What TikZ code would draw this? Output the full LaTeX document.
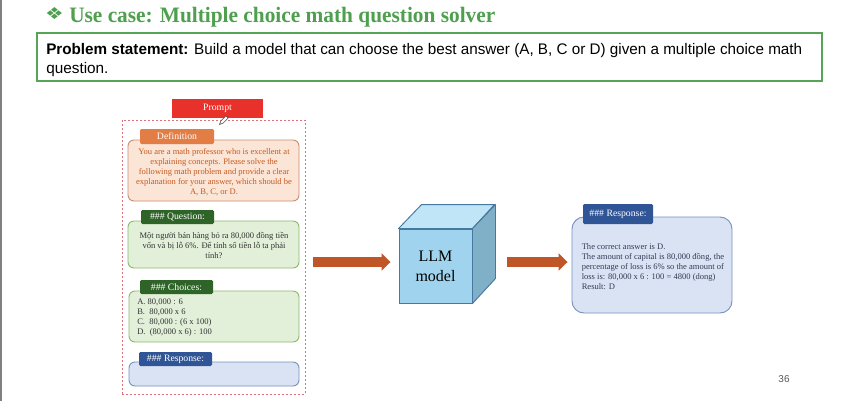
\documentclass[tikz,border=0pt]{standalone}
\usepackage{fontspec}
\setmainfont{Liberation Serif}
\newfontfamily\sansf{Liberation Sans}
\newfontfamily\symf{DejaVu Sans}
\usetikzlibrary{arrows.meta}
\newdimen\pxu \pxu=0.75pt
\newcommand\fitw[2]{\resizebox{#1\pxu}{\height}{#2}}
\definecolor{titleg}{RGB}{78,160,78}
\definecolor{probg}{RGB}{86,165,86}
\definecolor{promptred}{RGB}{232,49,42}
\definecolor{dashc}{RGB}{222,112,122}
\definecolor{deftab}{RGB}{226,125,70}
\definecolor{deffill}{RGB}{251,229,214}
\definecolor{defline}{RGB}{205,140,110}
\definecolor{deftext}{RGB}{197,90,30}
\definecolor{qtab}{RGB}{47,100,40}
\definecolor{qfill}{RGB}{226,240,217}
\definecolor{qline}{RGB}{140,184,112}
\definecolor{rtab}{RGB}{47,85,151}
\definecolor{rfill}{RGB}{218,227,243}
\definecolor{rline}{RGB}{120,145,190}
\definecolor{rtext}{RGB}{46,59,85}
\definecolor{arrowc}{RGB}{192,86,40}
\definecolor{cubef}{RGB}{160,212,238}
\definecolor{cubet}{RGB}{192,229,247}
\definecolor{cubes}{RGB}{128,176,200}
\definecolor{cubeb}{RGB}{70,120,160}
\definecolor{bodyg}{RGB}{50,50,50}
\tikzset{
  tab/.style={rounded corners=1.1pt, text=white, font=\fontsize{7.3}{8}\selectfont,
    inner sep=0pt, minimum height=10.5pt, minimum width=54.75pt},
  card/.style={rounded corners=4.5pt, line width=0.7pt, inner sep=0pt},
  bigarrow/.style={line width=7.5pt, draw=arrowc, -{Triangle[length=6.75pt, width=12.75pt]}},
  bodytext/.style={font=\fontsize{6.4}{7.5}\selectfont, inner sep=0pt},
}
\begin{document}
\begin{tikzpicture}[x=0.75pt,y=-0.75pt]
\useasboundingbox[fill=white] (0,0) rectangle (853,401);
% left page edge
\draw[gray, line width=1.1pt] (1,0) -- (1,401);
% title
\node[inner sep=0pt, text=titleg] (diam) at (54.5,13.5) {\resizebox{14pt}{9pt}{\symf ❖}};
\node[anchor=base west, inner sep=0pt, text=titleg, font=\fontsize{16.5}{18}\selectfont\bfseries] (title) at (69,22)
  {\fitw{426}{Use case: Multiple choice math question solver}};
% problem statement
\node[draw=probg, line width=1.5pt, minimum width=588.75pt, minimum height=36pt, inner sep=0pt] (prob) at (429.5,57) {};
\node[anchor=base west, inner sep=0pt, font=\sansf\fontsize{11.5}{13}\selectfont] (pl1) at (46,54)
  {\fitw{756}{\textbf{Problem statement:} Build a model that can choose the best answer (A, B, C or D) given a multiple choice math}};
\node[anchor=base west, inner sep=0pt, font=\sansf\fontsize{11.5}{13}\selectfont] (pl2) at (46,73) {question.};
% prompt container
\node[draw=dashc, dash pattern=on 1.5pt off 1.5pt, line width=0.7pt, minimum width=137.25pt, minimum height=205.5pt, inner sep=0pt] (promptbox) at (213.5,257) {};
\node[tab, fill=promptred, rounded corners=0pt, minimum width=68.25pt, minimum height=14.25pt] (prompt) at (217.5,108.5) {Prompt};
% pencil icon
\draw[fill=white, draw=black!70, line width=0.45pt] (225.9,115.9) -- (228.1,118.1) -- (223.1,123.1) -- (219.5,124.5) -- (220.9,120.9) -- cycle;
% definition
\node[card, draw=defline, fill=deffill, minimum width=128.25pt, minimum height=45.75pt] (defbox) at (213.5,170.5) {};
\node[bodytext, text=deftext, align=center] (deftxt) at (214,172)
  {You are a math professor who is excellent at\\explaining concepts. Please solve the\\following math problem and provide a clear\\explanation for your answer, which should be\\A, B, C, or D.};
\node[tab, fill=deftab, minimum width=55.5pt, minimum height=11.25pt] (deftab) at (177,136.5) {Definition};
% question
\node[card, draw=qline, fill=qfill, minimum width=128.25pt, minimum height=35.25pt] (qbox) at (213.5,244.5) {};
\node[bodytext, text=bodyg, align=center] (qtxt) at (214,245.5)
  {Một người bán hàng bỏ ra 80,000 đồng tiền\\vốn và bị lỗ 6\%. Để tính số tiền lỗ ta phải\\tính?};
\node[tab, fill=qtab] (qtabn) at (177.5,217) {\#\#\# Question:};
% choices
\node[card, draw=qline, fill=qfill, minimum width=127.5pt, minimum height=38.25pt] (cbox) at (214,316.5) {};
\node[bodytext, text=bodyg, align=left, anchor=west] (ctxt) at (137,317.5)
  {A. 80,000 : 6\\B.\ \ 80,000 x 6\\C.\ \ 80,000 : (6 x 100)\\D.\ \ (80,000 x 6) : 100};
\node[tab, fill=qtab] (ctab) at (176.5,287) {\#\#\# Choices:};
% response (empty)
\node[card, draw=rline, fill=rfill, minimum width=127.5pt, minimum height=18pt] (rbox1) at (214,374) {};
\node[tab, fill=rtab] (rtab1) at (175.5,359) {\#\#\# Response:};
% LLM cube
\node[draw=cubeb, fill=cubef, line width=0.7pt, minimum width=54.75pt, minimum height=55.5pt, inner sep=0pt,
  align=center, font=\fontsize{12}{15}\selectfont] (cube) at (435.5,266) {LLM\\model};
\draw[fill=cubet, draw=cubeb, line width=0.7pt, line join=round] (cube.north west) -- ++(23,-24) -- ++(73,0) -- (cube.north east) -- cycle;
\draw[fill=cubes, draw=cubeb, line width=0.7pt, line join=round] (cube.north east) -- ++(23,-24) -- ++(0,74) -- (cube.south east) -- cycle;
\coordinate (cuber) at (495,266);
% response (answer)
\node[rounded corners=9pt, line width=0.7pt, draw=rline, fill=rfill, minimum width=120pt, minimum height=72pt, inner sep=0pt] (resp) at (652,265) {};
\node[bodytext, text=rtext, align=left, anchor=west] (resptxt) at (581.5,266.5)
  {The correct answer is D.\\The amount of capital is 80,000 đồng, the\\percentage of loss is 6\% so the amount of\\loss is: 80,000 x 6 : 100 = 4800 (dong)\\Result: D};
\node[tab, fill=rtab, minimum width=52.5pt, minimum height=15pt] (rtab2) at (618,214) {\#\#\# Response:};
% arrows
\coordinate (ay) at (0,262);
\draw[bigarrow, shorten <=6pt, shorten >=6pt] (promptbox.east |- ay) -- (cube.west |- ay);
\draw[bigarrow, shorten <=9pt, shorten >=3pt] (cuber |- ay) -- (resp.west |- ay);
% page number
\node[font=\sansf\fontsize{7.5}{8}\selectfont, text=black!65] (pnum) at (784,379.5) {36};
\end{tikzpicture}
\end{document}
